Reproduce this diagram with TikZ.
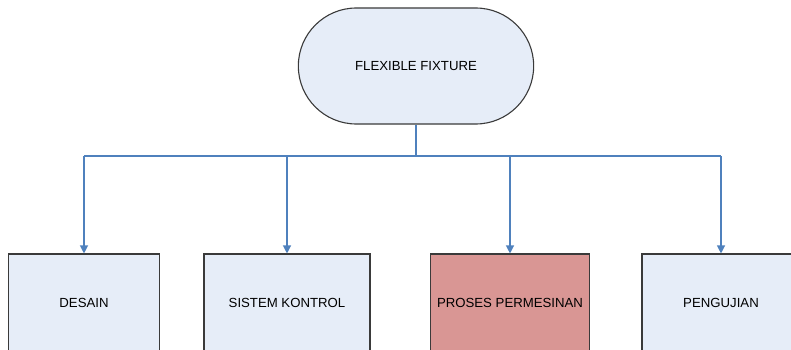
\documentclass[tikz,border=0pt]{standalone}
\usepackage{fontspec}
\setmainfont{Liberation Sans}
\usetikzlibrary{shapes.misc,arrows.meta,calc}

\definecolor{boxblue}{HTML}{E6EDF8}
\definecolor{boxred}{HTML}{D99694}
\definecolor{linkblue}{HTML}{4F81BD}
\definecolor{rim}{HTML}{3A3A3A}

\tikzset{
    terminal/.style={rounded rectangle, draw=rim, line width=1.1pt, fill=boxblue,
        minimum width=242pt, minimum height=116pt, font=\fontsize{13.2}{15}\selectfont},
    task/.style={rectangle, draw=rim, line width=1.1pt, fill=boxblue,
        minimum height=98pt, inner sep=0pt, font=\fontsize{13.2}{15}\selectfont},
    link/.style={draw=linkblue, line width=1.2pt},
    tip/.style={-{Triangle[width=8pt,length=8pt]}}
}

\begin{document}
\begin{tikzpicture}[x=1pt, y=-1pt]
    \useasboundingbox (0,0) rectangle (791,350);
    \clip (0,0) rectangle (791,350);

    % Top terminal
    \node[terminal] (fixture) at (416,66) {FLEXIBLE FIXTURE};

    % Work packages
    \node[task, minimum width=151pt] (desain) at (84,303) {DESAIN};
    \node[task, minimum width=166pt] (kontrol) at (287,303) {SISTEM KONTROL};
    \node[task, minimum width=159pt, fill=boxred] (proses) at (510,303) {PROSES PERMESINAN};
    \node[task, minimum width=158pt] (uji) at (721,303) {PENGUJIAN};

    % Bus line
    \coordinate (bus) at (416,156);
    \draw[link] (fixture.south) -- (bus);
    \draw[link] (desain.north |- bus) -- (uji.north |- bus);

    % Branches down to the boxes
    \foreach \b in {desain, kontrol, proses, uji}
        \draw[link, tip] (\b.north |- bus) -- (\b.north);
\end{tikzpicture}
\end{document}
